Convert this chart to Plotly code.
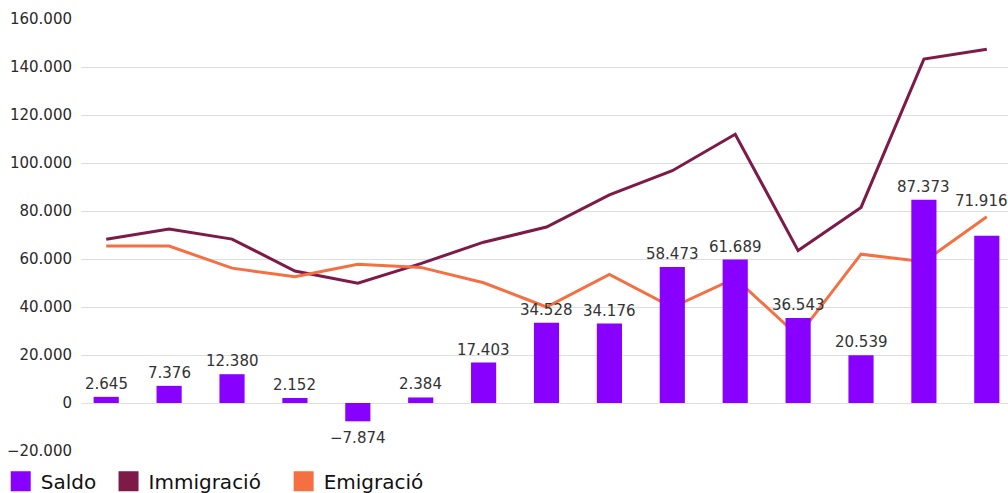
import plotly.graph_objects as go

years = list(range(2008, 2023))
saldo = [2645, 7376, 12380, 2152, -7874, 2384, 17403, 34528, 34176, 58473, 61689, 36543, 20539, 87373, 71916]
immigracio = [68200, 72500, 68300, 55000, 49900, 58100, 67000, 73300, 86700, 96800, 112000, 63500, 81500, 143300, 147400]
emigracio = [65400, 65400, 56200, 52600, 57800, 56500, 50100, 40000, 53600, 39900, 52000, 27900, 62000, 58900, 77600]
tick_vals = list(range(-20000, 160001, 20000))
tick_text = ["\u221220.000", "0", "20.000", "40.000", "60.000", "80.000", "100.000",
             "120.000", "140.000", "160.000"]
legend_names = ["Saldo", "Immigració", "Emigració"]

C_SALDO = "#8800FF"
C_IMM = "#7D1A47"
C_EMI = "#F47043"
FONT = "DejaVu Sans, sans-serif"
TXT = "#333333"


def fmt(v):
    s = f"{abs(v):,}".replace(",", ".")
    return ("\u2212" if v < 0 else "") + s


fig = go.Figure()
fig.add_trace(go.Bar(x=years, y=saldo, width=0.4, marker=dict(color=C_SALDO, line=dict(width=0)),
                     yaxis="y2", showlegend=False, hoverinfo="skip"))
fig.add_trace(go.Scatter(x=years, y=immigracio, mode="lines", line=dict(color=C_IMM, width=3),
                         showlegend=False))
fig.add_trace(go.Scatter(x=years, y=emigracio, mode="lines", line=dict(color=C_EMI, width=3),
                         showlegend=False))

legend_ids = ["legend", "legend2", "legend3"]
for name, col, lid in zip(legend_names, [C_SALDO, C_IMM, C_EMI], legend_ids):
    fig.add_trace(go.Scatter(x=[None], y=[None], mode="markers", name=name, legend=lid,
                             marker=dict(symbol="square", size=20, color=col,
                                         line=dict(color=col, width=4))))

annotations = []
for i, (x, v) in enumerate(zip(years, saldo)):
    last = i == len(saldo) - 1
    annotations.append(dict(
        x=x, y=v, xref="x", yref="y2", text=fmt(v), showarrow=False,
        yanchor="bottom" if v >= 0 else "top",
        yshift=(24 if last else 2) if v >= 0 else -6,
        xshift=-5 if last else 0,
        font=dict(family=FONT, size=15, color=TXT)))

leg_common = dict(orientation="h", xanchor="left", y=-0.025, yanchor="top",
                  font=dict(family=FONT, size=20, color="#111111"), itemsizing="trace",
                  bgcolor="rgba(0,0,0,0)")
f = 1.032
fig.update_layout(
    width=1008, height=493,
    margin=dict(l=81, r=0, t=19, b=42, autoexpand=False),
    paper_bgcolor="white", plot_bgcolor="white",
    font=dict(family=FONT, color=TXT),
    showlegend=True,
    legend=dict(x=-0.0866, **leg_common),
    legend2=dict(x=0.0297, **leg_common),
    legend3=dict(x=0.2186, **leg_common),
    xaxis=dict(range=[2007.599, 2022.337], showticklabels=False, showgrid=False,
               zeroline=False, ticks=""),
    yaxis=dict(range=[-20000, 160000], tickvals=tick_vals, ticktext=tick_text,
               showgrid=True, gridcolor="#DEDEDE", gridwidth=1, zeroline=False,
               tickfont=dict(family=FONT, size=15, color="#2A2A2A"), ticks="", ticklabelstandoff=8),
    yaxis2=dict(range=[-20000 * f, 160000 * f], overlaying="y", visible=False),
    annotations=annotations,
    bargap=0.6,
)

fig.write_html("out.html", config={"displayModeBar": False},
               post_script="document.body.style.margin='0';document.body.style.overflow='hidden';")
